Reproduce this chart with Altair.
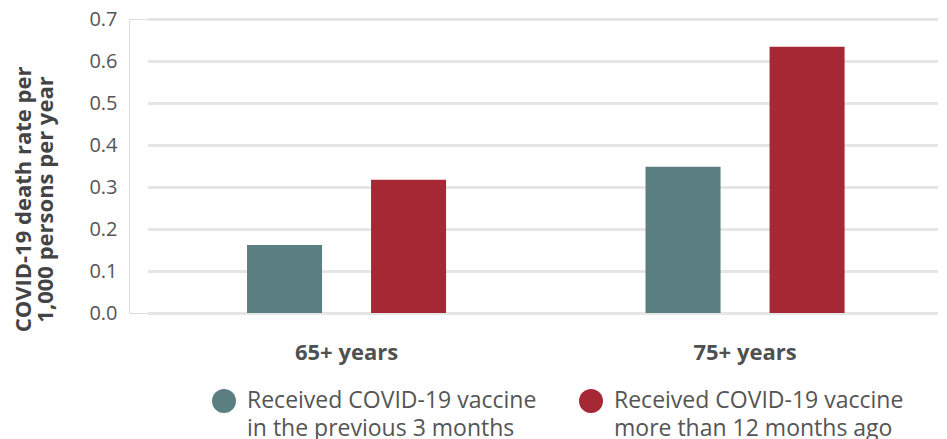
import altair as alt
import pandas as pd

groups = ["65+ years", "75+ years"]
series = [
    "Received COVID-19 vaccine|in the previous 3 months",
    "Received COVID-19 vaccine|more than 12 months ago",
]
recent_vals = [0.162, 0.348]
old_vals = [0.317, 0.634]
colors = ["#5B7F80", "#A62834"]
y_ticks = [0.0, 0.1, 0.2, 0.3, 0.4, 0.5, 0.6, 0.7]
y_title = ["COVID-19 death rate per", "1,000 persons per year"]

rows = []
for g, a, b in zip(groups, recent_vals, old_vals):
    rows.append({"group": g, "series": series[0], "value": a})
    rows.append({"group": g, "series": series[1], "value": b})
df = pd.DataFrame(rows)

FONT = "Open Sans"

chart = alt.Chart(df).mark_bar().encode(
    x=alt.X("group:N", sort=groups,
            scale=alt.Scale(range=[18.3, 815.3], paddingInner=0, paddingOuter=0),
            axis=alt.Axis(title=None, labelAngle=0, domain=False, ticks=False,
                          labelPadding=29, labelFontSize=22, labelFontWeight="bold",
                          labelColor="#505050", labelFont=FONT)),
    xOffset=alt.XOffset("series:N", sort=series,
                        scale=alt.Scale(paddingInner=0.395, paddingOuter=0.804)),
    y=alt.Y("value:Q",
            scale=alt.Scale(domain=[0, 0.7], nice=False, zero=True),
            axis=alt.Axis(values=y_ticks, format=".1f", title=y_title,
                          domain=False, ticks=False, labelPadding=12,
                          labelFontSize=20, labelColor="#555555", labelFont=FONT,
                          titleFontSize=22, titleFontWeight="bold", titleColor="#444444",
                          titleFont=FONT, titleLineHeight=22,
                          titleAngle=270, titleX=-116, titleY=180,
                          titleAlign="center", titleBaseline="top",
                          gridColor="#E6E6E6", gridWidth=3)),
    color=alt.Color("series:N", sort=series,
                    scale=alt.Scale(domain=series, range=colors),
                    legend=alt.Legend(orient="none", legendX=83, legendY=370,
                                      direction="horizontal", title=None,
                                      symbolType="circle", symbolSize=576,
                                      symbolStrokeWidth=0, symbolOpacity=1,
                                      labelExpr="split(datum.label, '|')",
                                      labelFontSize=23, labelColor="#555555",
                                      labelFont=FONT, labelLimit=500,
                                      labelOffset=11, columnPadding=42,
                                      labelBaseline="middle")),
).properties(
    width=809, height=294,
    autosize=alt.AutoSizeParams(type="none"),
    padding={"left": 121, "top": 11, "right": 0, "bottom": 140},
).configure_view(stroke=None).configure(
    style={"guide-label": {"lineHeight": 28}}
)

chart.save("out.html", embed_options={"renderer": "svg", "actions": False})
